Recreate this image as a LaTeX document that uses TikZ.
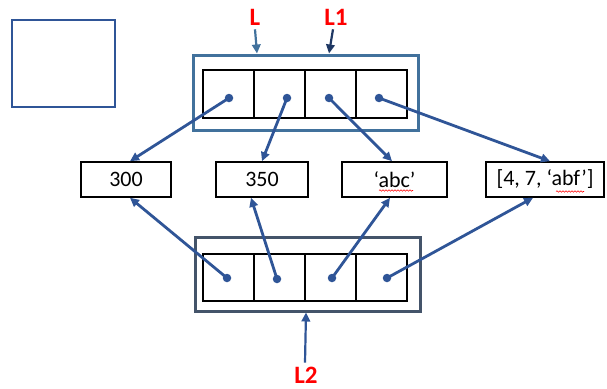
\documentclass[tikz,border=0pt]{standalone}
\usepackage{fontspec}
\setmainfont{Carlito}
\usetikzlibrary{arrows.meta,calc,decorations.pathmorphing}
\definecolor{arrblue}{HTML}{2F5597}
\definecolor{topframe}{HTML}{41719C}
\definecolor{botframe}{HTML}{44546A}
\definecolor{darknavy}{HTML}{1F3864}
\begin{document}
\begin{tikzpicture}[x=1pt,y=-1pt,
  cell/.style={draw=black,line width=1.5pt,minimum width=51pt,minimum height=48pt,inner sep=0},
  outer/.style={draw,line width=3pt,inner sep=0,minimum width=225pt,minimum height=75pt},
  valbox/.style={draw=black,line width=1.6pt,minimum height=35pt,inner sep=0,font=\fontsize{22}{26}\selectfont},
  ptr/.style={draw=arrblue,line width=2.8pt,-{Triangle[length=9pt,width=8.5pt]}},
  pdot/.style={circle,fill=arrblue,inner sep=0,minimum size=8.5pt},
  lbl/.style={text=red,font=\fontsize{25}{30}\selectfont\bfseries,inner sep=0},
  squig/.style={red,line width=0.6pt,decorate,decoration={snake,amplitude=0.7pt,segment length=3pt}}]
\useasboundingbox (0,0) rectangle (607,388);

% empty square
\node[draw=arrblue,line width=2.8pt,minimum width=103pt,minimum height=87pt,inner sep=0] (sq) at (63.5,63.5) {};

% top list
\node[outer,draw=topframe] (top) at (305.5,92.5) {};
\node[cell] (t1) at (228.5,94) {};
\node[cell] (t2) at (279.5,94) {};
\node[cell] (t3) at (330.5,94) {};
\node[cell] (t4) at (381.5,94) {};
\node[pdot] (d1) at (229,98) {};
\node[pdot] (d2) at (287,98) {};
\node[pdot] (d3) at (329,98) {};
\node[pdot] (d4) at (379,98) {};

% bottom list
\node[outer,draw=botframe,minimum height=74pt] (bot) at (307.5,274) {};
\node[cell,minimum height=47pt] (u1) at (228.5,277.5) {};
\node[cell,minimum height=47pt] (u2) at (279.5,277.5) {};
\node[cell,minimum height=47pt] (u3) at (330.5,277.5) {};
\node[cell,minimum height=47pt] (u4) at (381.5,277.5) {};
\node[pdot] (e1) at (227,278) {};
\node[pdot] (e2) at (277,279) {};
\node[pdot] (e3) at (332,278) {};
\node[pdot] (e4) at (387,278) {};

% value boxes
\node[valbox,minimum width=90pt] (b300) at (126,179.5) {300};
\node[valbox,minimum width=92pt] (b350) at (262,179.5) {350};
\node[valbox,minimum width=105pt] (babc) at (394.5,179.5) {‘abc’};
\node[valbox,minimum width=118pt] (blist) at (545,179.5) {[4, 7, ‘abf’]};
\draw[squig] (379,190.5) -- (413,190.5);
\draw[squig] (556,191.5) -- (584,191.5);

% labels
\node[lbl] (L) at (255,17) {L};
\node[lbl] (L1) at (336,17) {L1};
\node[lbl] (L2) at (306,375) {L2};

% label arrows
\draw[ptr,draw=topframe,line width=2.2pt] ([yshift=-4pt]L.south) -- ([xshift=-48.5pt]top.north);
\draw[ptr,draw=darknavy,line width=2.2pt] ([xshift=-3pt,yshift=-4pt]L1.south) -- ([xshift=23.5pt]top.north);
\draw[ptr,line width=2.2pt] ([xshift=-1pt,yshift=4pt]L2.north) -- ([xshift=-1.5pt]bot.south);

% top pointers
\draw[ptr] (d1.center) -- ([xshift=4pt]b300.north);
\draw[ptr] (d2.center) -- (b350.north);
\draw[ptr] (d3.center) -- ([xshift=-2.5pt]babc.north);
\draw[ptr] (d4.center) -- ([xshift=5pt]blist.north);

% bottom pointers
\draw[ptr] (e1.center) -- ([xshift=4pt]b300.south);
\draw[ptr] (e2.center) -- ([xshift=-11pt]b350.south);
\draw[ptr] (e3.center) -- ([xshift=-4.5pt]babc.south);
\draw[ptr] (e4.center) -- ([xshift=-12pt]blist.south);
\end{tikzpicture}
\end{document}
